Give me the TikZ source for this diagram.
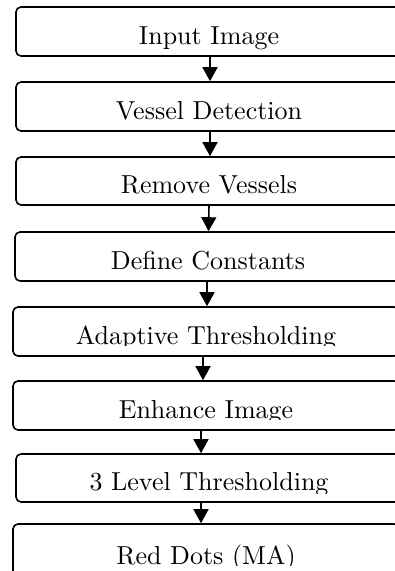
\documentclass[tikz,border=0pt]{standalone}
\usepackage{fontspec}
\setmainfont{lmroman10-regular}[Extension=.otf]
\usepackage{tikz}
\usetikzlibrary{arrows.meta}

\newcommand\cutline{11pt}
\newcommand\boxfont{\fontsize{26}{30}\selectfont}

\tikzset{
  stepbox/.style={draw, line width=1.6pt, rounded corners=5pt,
    minimum width=386pt, minimum height=49pt, inner sep=0pt,
    path picture={
      \clip ([yshift=\cutline]path picture bounding box.south west) rectangle (path picture bounding box.north east);
      \node[anchor=base, inner sep=0pt, font=\boxfont] at ([yshift=12pt]path picture bounding box.south) {#1};
    }},
  cutat/.code={\def\cutline{#1}},
  flow/.style={line width=1.6pt, -{Triangle[width=15pt,length=14pt]}}
}

\begin{document}
\begin{tikzpicture}[x=1pt,y=1pt]

\useasboundingbox (0,0) rectangle (395,-571);

\node[stepbox=Input Image, cutat=3pt] (input) at (209,-31.5){};
\node[stepbox=Vessel Detection] (vessel) at (209,-106.5){};
\node[stepbox=Remove Vessels, minimum height=48pt] (remove) at (209,-181){};
\node[stepbox=Define Constants] (consts) at (208,-256.5){};
\node[stepbox=Adaptive Thresholding] (adapt) at (206,-331.5){};
\node[stepbox=Enhance Image] (enhance) at (206,-405.5){};
\node[stepbox=3 Level Thresholding, minimum height=48pt, cutat=9pt] (level) at (209,-478){};
\node[stepbox=Red Dots (MA), minimum height=52pt, cutat=11pt] (reddots) at (206,-550){};

\draw[flow] ([xshift=1pt]input.south) -- ([xshift=1pt]vessel.north);
\draw[flow] ([xshift=1pt]vessel.south) -- ([xshift=1pt]remove.north);
\draw[flow] (remove.south) -- ([xshift=0.5pt]consts.north);
\draw[flow] ([xshift=-1pt]consts.south) -- ([xshift=1pt]adapt.north);
\draw[flow] ([xshift=-3pt]adapt.south) -- ([xshift=-3pt]enhance.north);
\draw[flow] ([xshift=-5pt]enhance.south) -- ([xshift=-8pt]level.north);
\draw[flow] ([xshift=-8pt]level.south) -- ([xshift=-5pt]reddots.north);

\end{tikzpicture}
\end{document}
